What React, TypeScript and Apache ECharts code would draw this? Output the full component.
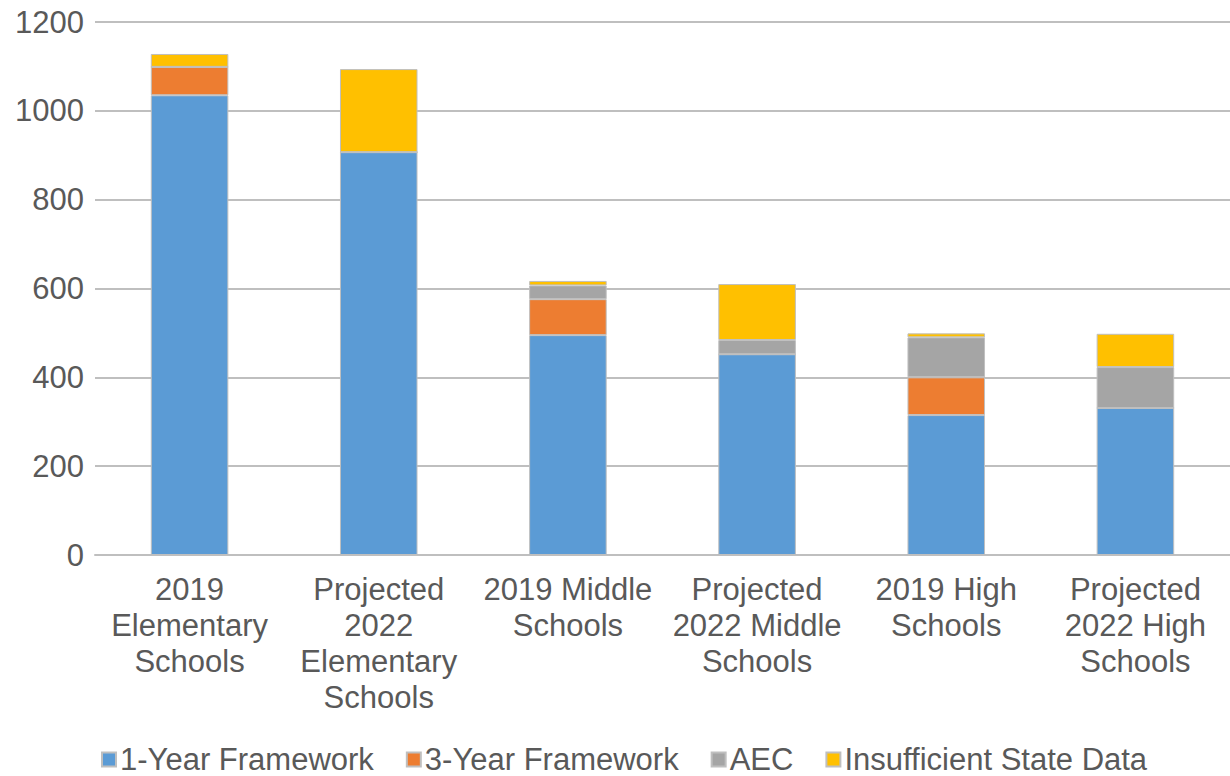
import React, { useEffect, useRef } from "react";
import * as echarts from "echarts";

const categories = [
  "2019\nElementary\nSchools",
  "Projected\n2022\nElementary\nSchools",
  "2019 Middle\nSchools",
  "Projected\n2022 Middle\nSchools",
  "2019 High\nSchools",
  "Projected\n2022 High\nSchools",
];
const oneYear = [1035, 907, 495, 452, 315, 331];
const threeYear = [64, 0, 81, 0, 85, 0];
const aec = [0, 0, 31, 32, 90, 92];
const insufficient = [29, 187, 10, 126, 9, 75];
const yTicks = [0, 200, 400, 600, 800, 1000, 1200];

export default function App() {
  const ref = useRef<HTMLDivElement>(null);
  useEffect(() => {
    const chart = echarts.init(ref.current!, null, { renderer: "svg" });
    const font = "Liberation Sans, Arial, sans-serif";
    const mk = (name: string, data: number[], color: string) => ({
      name,
      type: "bar",
      stack: "total",
      data,
      barWidth: "41%",
      itemStyle: { color, borderColor: "#bfbfbf", borderWidth: 1 },
    });
    chart.setOption({
      animation: false,
      backgroundColor: "#fff",
      textStyle: { fontFamily: font },
      grid: { left: 95, right: -8, top: 22, bottom: 221 },
      legend: {
        top: 739,
        left: 96,
        itemWidth: 14,
        itemHeight: 14,
        itemGap: 32,
        icon: "rect",
        textStyle: {
          fontSize: 31,
          color: "#595959",
          fontFamily: font,
          padding: [0, 0, 0, -1],
        },
        data: ["1-Year Framework", "3-Year Framework", "AEC", "Insufficient State Data"],
      },
      xAxis: {
        type: "category",
        data: categories,
        axisLine: { lineStyle: { color: "#bfbfbf", width: 2 } },
        axisTick: { show: false },
        axisLabel: {
          fontSize: 31,
          color: "#595959",
          lineHeight: 36,
          interval: 0,
          margin: 16,
          fontFamily: font,
        },
      },
      yAxis: {
        type: "value",
        min: 0,
        max: 1200,
        interval: 200,
        axisLabel: {
          fontSize: 31,
          color: "#595959",
          margin: 11,
          fontFamily: font,
          formatter: (v: number) => (yTicks.includes(v) ? String(v) : ""),
        },
        splitLine: { lineStyle: { color: "#bfbfbf", width: 2 } },
        axisLine: { show: false },
        axisTick: { show: false },
      },
      series: [
        mk("1-Year Framework", oneYear, "#5B9BD5"),
        mk("3-Year Framework", threeYear, "#ED7D31"),
        mk("AEC", aec, "#A5A5A5"),
        mk("Insufficient State Data", insufficient, "#FFC000"),
      ],
    });
    return () => chart.dispose();
  }, []);
  return (
    <div
      ref={ref}
      style={{ position: "absolute", left: 0, top: 0, width: 1230, height: 776 }}
    />
  );
}
